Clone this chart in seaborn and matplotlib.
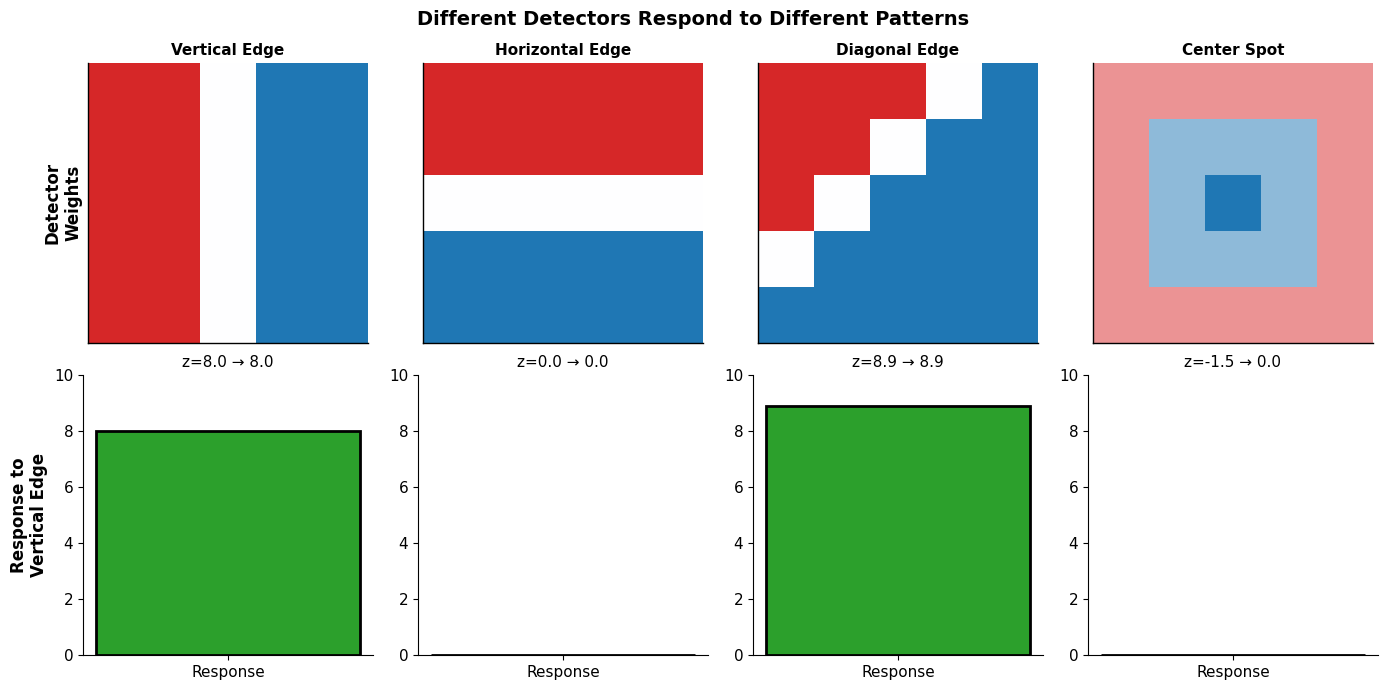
import numpy as np
import pandas as pd
import matplotlib
matplotlib.use('Agg')
import matplotlib.pyplot as plt
import seaborn as sns
from matplotlib.colors import LinearSegmentedColormap

# Detector names and responses
detectors = ['Vertical Edge', 'Horizontal Edge', 'Diagonal Edge', 'Center Spot']
z_values = [8.0, 0.0, 8.9, -1.5]
responses = [8.0, 0.0, 8.9, 0.0]

# 5x5 detector weights (red = negative, blue = positive)
w_vertical = [[-1, -1, 0, 1, 1]] * 5
w_horizontal = [[-1] * 5, [-1] * 5, [0] * 5, [1] * 5, [1] * 5]
w_diagonal = [[-1, -1, -1, 0, 1],
              [-1, -1, 0, 1, 1],
              [-1, 0, 1, 1, 1],
              [0, 1, 1, 1, 1],
              [1, 1, 1, 1, 1]]
w_center = [[-0.5, -0.5, -0.5, -0.5, -0.5],
            [-0.5, 0.5, 0.5, 0.5, -0.5],
            [-0.5, 0.5, 1.0, 0.5, -0.5],
            [-0.5, 0.5, 0.5, 0.5, -0.5],
            [-0.5, -0.5, -0.5, -0.5, -0.5]]
weights = [w_vertical, w_horizontal, w_diagonal, w_center]

cmap = LinearSegmentedColormap.from_list('rwb', ['#d62728', 'white', '#1f77b4'])

fig, axes = plt.subplots(2, 4, figsize=(13.87, 6.89), dpi=100)
fig.subplots_adjust(left=0.0598, right=0.9935, top=0.9086, bottom=0.0493,
                    wspace=0.155, hspace=0.114)

for i, name in enumerate(detectors):
    ax = axes[0, i]
    sns.heatmap(np.array(weights[i]), ax=ax, cmap=cmap, vmin=-1, vmax=1,
                cbar=False, square=True, xticklabels=False, yticklabels=False)
    ax.set_title(name, fontsize=11, fontweight='bold')
    for side in ['left', 'bottom']:
        ax.spines[side].set_visible(True)
        ax.spines[side].set_color('black')
        ax.spines[side].set_linewidth(1.0)

    bx = axes[1, i]
    df = pd.DataFrame({'label': ['Response'], 'value': [responses[i]]})
    sns.barplot(data=df, x='label', y='value', ax=bx, color='#2ca02c',
                saturation=1, edgecolor='black', linewidth=2, width=0.8)
    bx.set_xlim(-0.44, 0.44)
    bx.set_ylim(0, 10)
    bx.set_xlabel('')
    bx.set_ylabel('')
    bx.set_title(f'z={z_values[i]:.1f} \u2192 {responses[i]:.1f}', fontsize=11)
    bx.tick_params(axis='both', labelsize=11)
    sns.despine(ax=bx)

axes[0, 0].set_ylabel('Detector\nWeights', fontsize=12, fontweight='bold')
axes[1, 0].set_ylabel('Response to\nVertical Edge', fontsize=12, fontweight='bold')

fig.suptitle('Different Detectors Respond to Different Patterns', fontsize=14,
             fontweight='bold', y=0.972, va='center')
plt.savefig('out.png', dpi=100)
plt.close()
